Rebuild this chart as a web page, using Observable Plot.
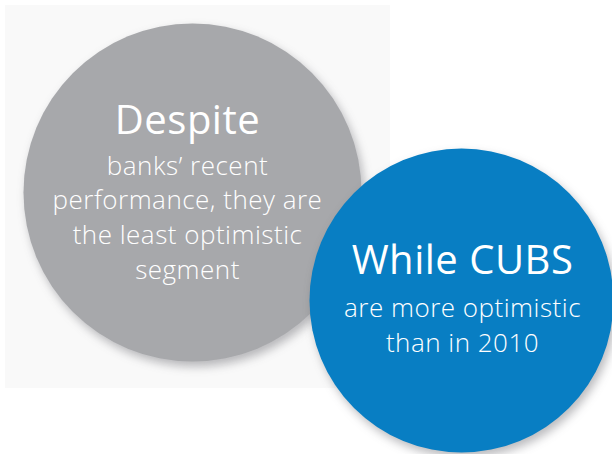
<!DOCTYPE html>
<html>
<head>
<meta charset="utf-8">
<script src="https://cdn.jsdelivr.net/npm/d3@7"></script>
<script src="https://cdn.jsdelivr.net/npm/@observablehq/plot@0.6"></script>
<style>
  html, body { margin: 0; padding: 0; background: #ffffff; }
  #chart svg { display: block; background: transparent; }
  #chart g[aria-label="dot"] circle { filter: drop-shadow(3px 5px 5px rgba(60,60,70,0.35)); }
  #chart g[aria-label="text"] text { letter-spacing: 0.5px; }
</style>
</head>
<body>
<div id="chart"></div>
<script>
// Segments shown as bubbles
const segments = ["Banks", "CUBS"];
const bubbleX = [192, 461];
const bubbleY = [192, 300];
const bubbleR = [169, 152];
const bubbleColors = ["#a7a8ab", "#087ec3"];
const textX = [187, 462];
const headlines = ["Despite", "While CUBS"];
const headlineY = [133, 273];
const bodies = [
  "banks’ recent\nperformance, they are\nthe least optimistic\nsegment",
  "are more optimistic\nthan in 2010"
];
const bodyLastY = [278, 351];
// backdrop panel extent
const panelX = [5, 390];
const panelY = [5, 388];

const bubbles = segments.map((s, i) => ({
  segment: s, x: bubbleX[i], y: bubbleY[i], r: bubbleR[i], color: bubbleColors[i],
  tx: textX[i], headline: headlines[i], hy: headlineY[i], body: bodies[i], by: bodyLastY[i]
}));

const font = "'Open Sans', Lato, sans-serif";

const chart = Plot.plot({
  width: 612,
  height: 454,
  margin: 0,
  x: {domain: [0, 612], range: [0, 612], axis: null},
  y: {domain: [0, 454], range: [0, 454], axis: null},
  r: {type: "identity"},
  color: {type: "identity"},
  marks: [
    Plot.rect([{x1: panelX[0], x2: panelX[1], y1: panelY[0], y2: panelY[1]}],
      {x1: "x1", x2: "x2", y1: "y1", y2: "y2", fill: "#f9f9f9"}),
    Plot.dot(bubbles, {x: "x", y: "y", r: "r", fill: "color", stroke: null}),
    Plot.text(bubbles, {
      x: "tx", y: "hy", text: "headline",
      fill: "white", fontSize: 40,
      fontFamily: font, fontWeight: 400, lineAnchor: "bottom", textAnchor: "middle"
    }),
    Plot.text(bubbles, {
      x: "tx", y: "by", text: "body",
      fill: "white", fontSize: 26, lineHeight: 1.33,
      fontFamily: font, fontWeight: 300, lineAnchor: "bottom", textAnchor: "middle"
    })
  ]
});
document.getElementById("chart").appendChild(chart);
</script>
</body>
</html>
